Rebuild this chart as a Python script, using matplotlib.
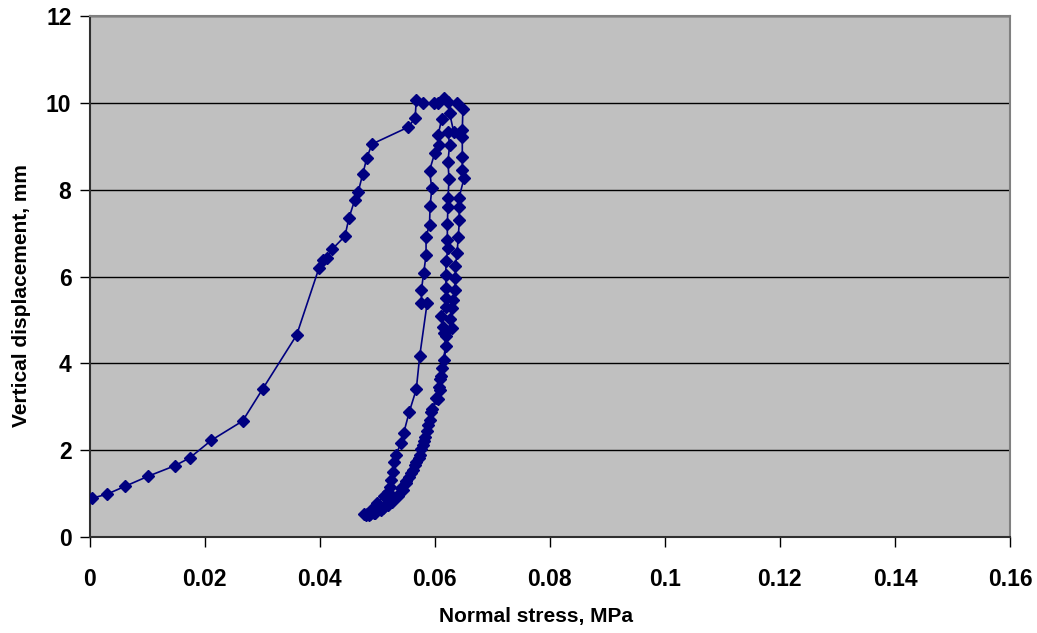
import matplotlib
matplotlib.use("Agg")
import matplotlib.pyplot as plt

# Normal stress (MPa) and vertical displacement (mm)
stress = [
    -0.0030, 0.0004, 0.0031, 0.0062, 0.0102, 0.0148, 0.0174, 0.0212, 0.0266, 0.0301,
    0.0360, 0.0399, 0.0406, 0.0413, 0.0422, 0.0444, 0.0451, 0.0461, 0.0467, 0.0475,
    0.0482, 0.0491, 0.0554, 0.0566, 0.0568, 0.0580, 0.0599, 0.0606, 0.0617, 0.0623,
    0.0639, 0.0649,
    # right branch, going down
    0.0648, 0.0648, 0.0648, 0.0648, 0.0651, 0.0642, 0.0642, 0.0643, 0.0641, 0.0639,
    0.0636, 0.0636, 0.0635, 0.0632, 0.0630, 0.0627, 0.0630, 0.0620,
    0.0617, 0.0611, 0.0609, 0.0606, 0.0593, 0.0589, 0.0584, 0.0580, 0.0574, 0.0568,
    0.0562, 0.0556, 0.0550, 0.0545, 0.0536, 0.0527, 0.0519, 0.0507, 0.0496, 0.0487,
    0.0478,
    # reloading, middle branch
    0.0485, 0.0495, 0.0510, 0.0525, 0.0535, 0.0542, 0.0550, 0.0558, 0.0565, 0.0572,
    0.0577, 0.0582, 0.0587, 0.0591, 0.0596, 0.0602, 0.0607, 0.0610, 0.0613,
    0.0619, 0.0617, 0.0614, 0.0611, 0.0620, 0.0620, 0.0620, 0.0619, 0.0620, 0.0623,
    0.0622, 0.0622, 0.0623, 0.0623, 0.0625, 0.0623, 0.0626, 0.0623, 0.0633, 0.0626,
    # left inner branch, going down
    0.0612, 0.0606, 0.0608, 0.0600, 0.0591, 0.0595, 0.0592, 0.0591, 0.0585, 0.0585,
    0.0581, 0.0577, 0.0577, 0.0587, 0.0574, 0.0568, 0.0556, 0.0546, 0.0542, 0.0532,
    0.0530, 0.0527, 0.0524, 0.0522, 0.0518, 0.0512, 0.0500, 0.0490, 0.0483, 0.0480,
]
displacement = [
    0.80, 0.89, 0.99, 1.17, 1.40, 1.64, 1.82, 2.23, 2.67, 3.41,
    4.65, 6.20, 6.38, 6.43, 6.63, 6.93, 7.35, 7.76, 7.95, 8.36,
    8.73, 9.05, 9.44, 9.65, 10.06, 9.99, 10.00, 10.00, 10.10, 10.03,
    9.99, 9.85,
    9.37, 9.22, 8.76, 8.45, 8.26, 7.80, 7.61, 7.30, 6.92, 6.55,
    6.24, 5.97, 5.69, 5.47, 5.27, 5.01, 4.81, 4.63,
    4.08, 3.71, 3.39, 3.19, 2.89, 2.58, 2.31, 2.12, 1.89, 1.73,
    1.54, 1.39, 1.24, 1.08, 0.94, 0.85, 0.74, 0.62, 0.55, 0.52,
    0.53,
    0.50, 0.55, 0.66, 0.80, 0.95, 1.12, 1.30, 1.48, 1.65, 1.83,
    2.02, 2.22, 2.45, 2.70, 2.95, 3.20, 3.45, 3.65, 3.90,
    4.40, 4.69, 4.84, 5.09, 5.30, 5.50, 5.73, 6.03, 6.36, 6.65,
    6.84, 7.20, 7.61, 7.80, 8.24, 8.64, 9.03, 9.33, 9.33, 9.76,
    9.62, 9.26, 9.04, 8.84, 8.44, 8.03, 7.62, 7.19, 6.92, 6.49,
    6.09, 5.70, 5.40, 5.40, 4.17, 3.40, 2.89, 2.39, 2.17, 1.89,
    1.73, 1.50, 1.31, 1.16, 1.04, 0.94, 0.78, 0.62, 0.52, 0.50,
]

x_ticks = [0, 0.02, 0.04, 0.06, 0.08, 0.1, 0.12, 0.14, 0.16]
x_tick_labels = ["0", "0.02", "0.04", "0.06", "0.08", "0.1", "0.12", "0.14", "0.16"]
y_ticks = [0, 2, 4, 6, 8, 10, 12]

plt.rcParams['font.family'] = ['Liberation Sans', 'DejaVu Sans']

fig = plt.figure(figsize=(10.37, 6.33), dpi=100)
ax = fig.add_axes([89.5 / 1037, 1 - 537 / 633, (1010 - 89.5) / 1037, (537 - 16) / 633])
ax.set_facecolor('#C0C0C0')

ax.plot(stress, displacement, color='#000080', linewidth=1.2, marker='D',
        markersize=6.3, markerfacecolor='#000080', markeredgecolor='#000080', zorder=3)

ax.set_xlim(0, 0.16)
ax.set_ylim(0, 12)
ax.set_xticks(x_ticks)
ax.set_xticklabels(x_tick_labels)
ax.set_yticks(y_ticks)

ax.yaxis.grid(True, color='black', linewidth=1.0)
ax.set_axisbelow(True)

for s in ['top', 'right']:
    ax.spines[s].set_color('#808080')
    ax.spines[s].set_linewidth(1.5)
for s in ['left', 'bottom']:
    ax.spines[s].set_color('#303030')
    ax.spines[s].set_linewidth(1.5)

ax.tick_params(axis='both', direction='out', length=7, width=1, color='black',
               labelsize=16.5)
for lab in ax.get_xticklabels() + ax.get_yticklabels():
    lab.set_fontweight('bold')
ax.tick_params(axis='x', pad=15)
ax.tick_params(axis='y', pad=6)

ax.set_xlabel('Normal stress, MPa', fontsize=15, fontweight='bold', labelpad=12)
ax.set_ylabel('Vertical displacement, mm', fontsize=15, fontweight='bold', labelpad=11)
ax.xaxis.label.set_x(0.485)
ax.yaxis.label.set_y(0.463)

fig.savefig('out.png', dpi=100)
